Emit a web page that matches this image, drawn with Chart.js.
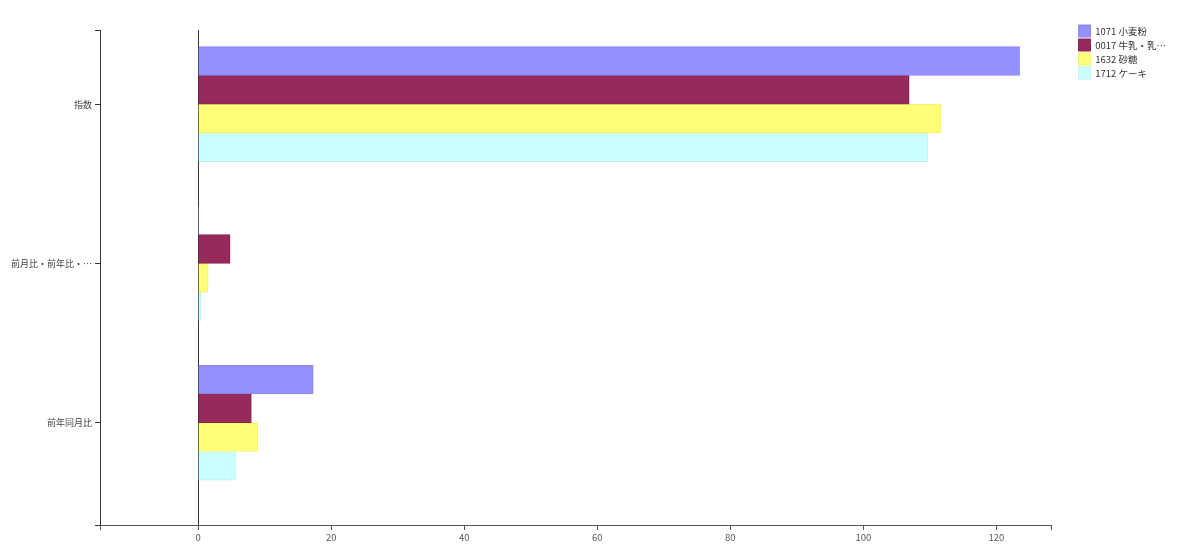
<!DOCTYPE html>
<html>
<head>
<meta charset="utf-8">
<script src="https://cdn.jsdelivr.net/npm/chart.js@4"></script>
<style>
  html, body { margin: 0; background: #fff; }
</style>
</head>
<body>
<canvas id="chart" width="1200" height="547"></canvas>
<script>
const categories = ["指数", "前月比・前年比・…", "前年同月比"];
const seriesNames = ["1071 小麦粉", "0017 牛乳・乳…", "1632 砂糖", "1712 ケーキ"];
const wheat = [123.5, 0.1, 17.3];
const milk = [106.9, 4.8, 8.0];
const sugar = [111.7, 1.5, 9.0];
const cake = [109.7, 0.4, 5.7];
const xTicks = [0, 20, 40, 60, 80, 100, 120];
const xMin = -14.75, xMax = 128.3;
const yMin = -0.465, yMax = 2.642;

const colors = ["#9491ff", "#962a5a", "#ffff77", "#ccffff"];
const borders = ["#8a87ee", "#872450", "#f2f26a", "#bff2f2"];

Chart.defaults.font.family = "'Noto Sans CJK JP', 'Noto Sans', sans-serif";

// push the legend a bit away from the plot, like the original
const legendShift = {
  id: "legendShift",
  afterLayout(chart) {
    const lg = chart.legend;
    const dx = chart.chartArea.right + 25 - lg.left;
    lg.left += dx;
    lg.right += dx;
    lg.top -= 7;
    lg.bottom -= 7;
  }
};

const series = [wheat, milk, sugar, cake];

new Chart(document.getElementById("chart"), {
  type: "bar",
  data: {
    datasets: series.map((vals, k) => ({
      label: seriesNames[k],
      data: vals.map((v, i) => ({ x: v, y: i })),
      backgroundColor: colors[k],
      borderColor: borders[k],
      borderWidth: 1,
      barThickness: 28.75
    }))
  },
  options: {
    indexAxis: "y",
    responsive: false,
    animation: false,
    devicePixelRatio: 1,
    layout: { padding: { top: 30, right: 49, left: 0, bottom: 0 } },
    scales: {
      x: {
        type: "linear",
        min: xMin,
        max: xMax,
        afterBuildTicks: s => { s.ticks = [xMin, ...xTicks, xMax].map(v => ({ value: v })); },
        afterFit: s => { s.height = 22; },
        ticks: {
          autoSkip: false,
          maxRotation: 0,
          padding: 2,
          color: "#555",
          font: { size: 9.5 },
          callback: v => xTicks.includes(v) ? v : ""
        },
        grid: {
          color: ctx => ctx.tick && ctx.tick.value === 0 ? "#333" : "rgba(0,0,0,0)",
          tickColor: "#555",
          tickLength: 5
        },
        border: { color: "#555" }
      },
      y: {
        type: "linear",
        reverse: true,
        offset: false,
        min: yMin,
        max: yMax,
        afterBuildTicks: s => { s.ticks = [yMin, 0, 1, 2, yMax].map(v => ({ value: v })); },
        afterFit: s => { s.width = 100; },
        ticks: {
          autoSkip: false,
          padding: 3,
          color: "#444",
          font: { size: 9 },
          callback: v => Number.isInteger(v) ? categories[v] : ""
        },
        grid: {
          offset: false,
          drawOnChartArea: false,
          tickColor: "#333",
          tickLength: 5
        },
        border: { color: "#333" }
      }
    },
    plugins: {
      legend: {
        position: "right",
        align: "start",
        labels: {
          boxWidth: 12,
          boxHeight: 12,
          padding: 2,
          color: "#333",
          font: { size: 9.5 }
        }
      },
      tooltip: { enabled: false }
    }
  },
  plugins: [legendShift]
});
</script>
</body>
</html>
